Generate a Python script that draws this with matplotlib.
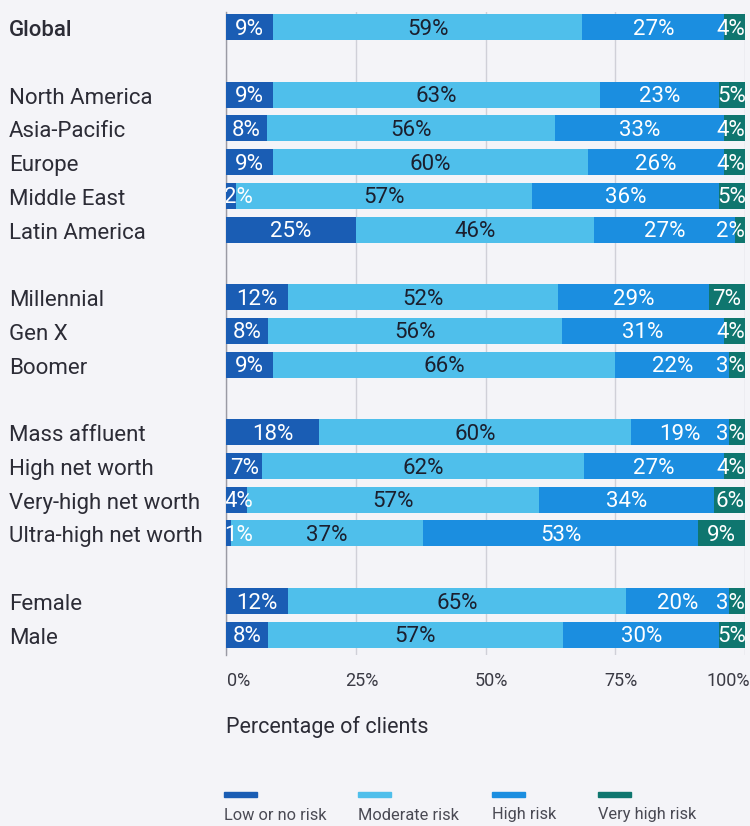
import matplotlib.pyplot as plt
import matplotlib.transforms as mtransforms
import numpy as np

categories = ["Global",
              "North America", "Asia-Pacific", "Europe", "Middle East", "Latin America",
              "Millennial", "Gen X", "Boomer",
              "Mass affluent", "High net worth", "Very-high net worth", "Ultra-high net worth",
              "Female", "Male"]
groups = [0, 1, 1, 1, 1, 1, 2, 2, 2, 3, 3, 3, 3, 4, 4]

low = [9, 9, 8, 9, 2, 25, 12, 8, 9, 18, 7, 4, 1, 12, 8]
moderate = [59, 63, 56, 60, 57, 46, 52, 56, 66, 60, 62, 57, 37, 65, 57]
high = [27, 23, 33, 26, 36, 27, 29, 31, 22, 19, 27, 34, 53, 20, 30]
very_high = [4, 5, 4, 4, 5, 2, 7, 4, 3, 3, 4, 6, 9, 3, 5]

series_names = ["Low or no risk", "Moderate risk", "High risk", "Very high risk"]
tick_vals = [0, 25, 50, 75, 100]
tick_labels = ["0%", "25%", "50%", "75%", "100%"]

colors = ["#1a5db4", "#4fbfeb", "#1b8ee0", "#0f766f"]
text_colors = ["white", "#1b1f2e", "white", "white"]

bg = "#f4f4f8"
font = "Roboto"

data = np.array([low, moderate, high, very_high], dtype=float)
data = data / data.sum(axis=0) * 100

# row positions, with one empty row between groups
ypos = np.array([i + g for i, g in enumerate(groups)])

fig = plt.figure(figsize=(7.5, 8.26), dpi=100, facecolor=bg)
ax = fig.add_axes([226 / 750, 1 - 655 / 826, 519 / 750, (655 - 12) / 826])
ax.set_facecolor(bg)

left = np.zeros(len(categories))
for k in range(4):
    ax.barh(ypos, data[k], left=left, height=0.77, color=colors[k], zorder=3)
    raw = [low, moderate, high, very_high][k]
    for y, l, w, v in zip(ypos, left, data[k], raw):
        c = l + w / 2
        half = 2.4 if v < 10 else 3.6   # rough half width of the label, in %
        if c - half < 0:
            x, ha = -0.3, "left"
        elif c + half > 100:
            x, ha = 100, "right"
        else:
            x, ha = c, "center"
        ax.text(x, y + 0.06, f"{v}%", ha=ha, va="center", color=text_colors[k],
                fontsize=16, family=font, zorder=4, clip_on=True)
    left += data[k]

ax.set_xlim(0, 100)
ax.set_ylim(18.6, -0.45)
ax.set_yticks([])
ax.set_xticks(tick_vals)
ax.set_xticklabels([])
ax.tick_params(axis="x", length=0)
for s in ["top", "right", "bottom"]:
    ax.spines[s].set_visible(False)
ax.spines["left"].set_color("#9a9aa4")
ax.spines["left"].set_linewidth(1.0)
ax.grid(axis="x", color="#d0d0d8", linewidth=1.0, zorder=0)

# tick labels below the axes
tick_trans = mtransforms.blended_transform_factory(ax.transData, fig.transFigure)
for v, lbl in zip(tick_vals, tick_labels):
    if v == 0:
        x, ha = 0.2, "left"
    elif v == 100:
        x, ha = 100.9, "right"
    else:
        x, ha = v + 1.2, "center"
    ax.text(x, 1 - 681 / 826, lbl, transform=tick_trans, ha=ha, va="center",
            fontsize=13, family=font, color="#3a3a44", clip_on=False)

trans = mtransforms.blended_transform_factory(fig.transFigure, ax.transData)
for name, y in zip(categories, ypos):
    ax.text(9 / 750, y + 0.1, name, transform=trans, ha="left", va="center",
            fontsize=16, family=font, color="#2c2c36",
            fontweight="medium" if name == "Global" else "normal")

fig.text(226 / 750, 1 - 727 / 826, "Percentage of clients", ha="left", va="center",
         fontsize=15.5, family=font, color="#2c2c36")

legend_x = [224, 358, 492, 598]
for x, c, name in zip(legend_x, colors, series_names):
    fig.patches.append(plt.Rectangle((x / 750, 1 - 797 / 826), 33 / 750, 5 / 826,
                                     transform=fig.transFigure, color=c, figure=fig))
    fig.text(x / 750, 1 - 815 / 826, name, ha="left", va="center",
             fontsize=11.8, family=font, color="#4a4a54")

fig.savefig("out.png", dpi=100, facecolor=bg)
